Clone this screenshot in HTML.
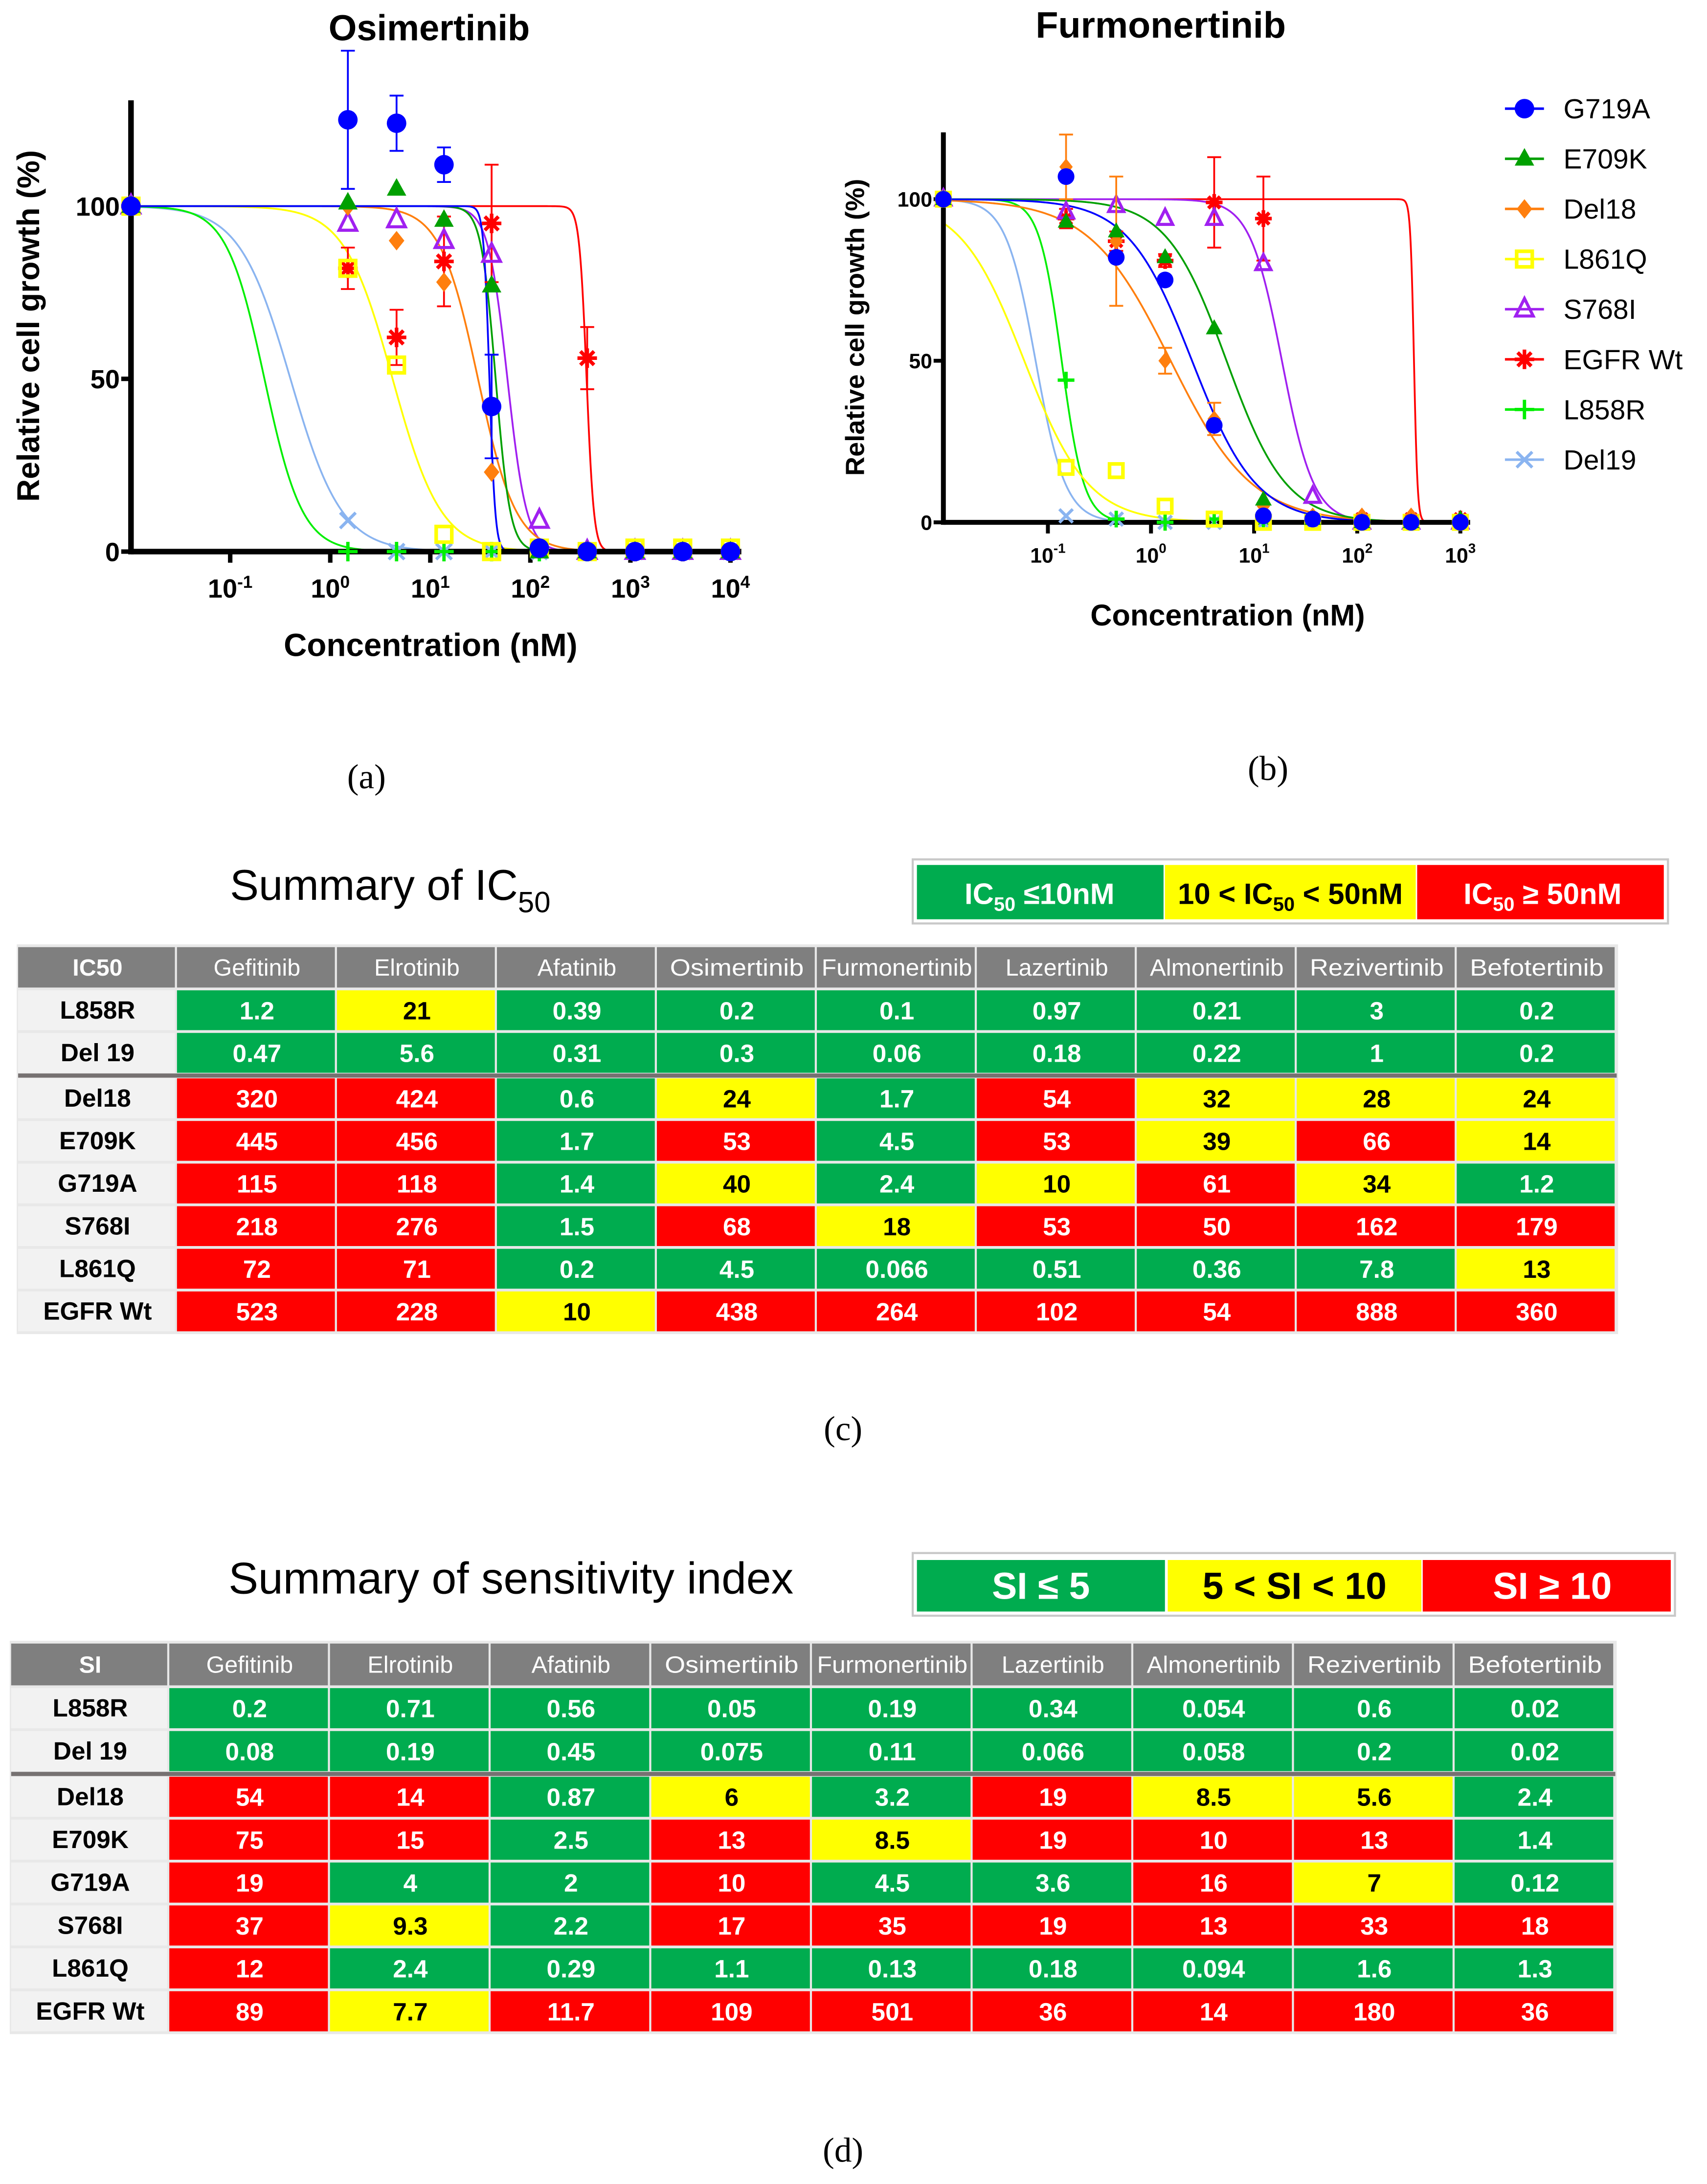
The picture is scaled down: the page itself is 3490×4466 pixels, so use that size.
<!DOCTYPE html>
<html><head><meta charset="utf-8"><style>
html,body{margin:0;padding:0;background:#fff;}
svg{display:block;}
text{font-family:"Liberation Sans",sans-serif;}
</style></head><body>
<svg id="fig" xmlns="http://www.w3.org/2000/svg" width="3490" height="4466" viewBox="0 0 1225 1568" preserveAspectRatio="none">
<rect x="0" y="0" width="1225" height="1568" fill="#fff"/>
<g id="chartA"></g>
<g id="chartB"></g>
<g id="legendB"></g>
<text x="263" y="566" font-size="25" text-anchor="middle" style="font-family:'Liberation Serif',serif">(a)</text>
<text x="910" y="560" font-size="25" text-anchor="middle" style="font-family:'Liberation Serif',serif">(b)</text>
<text x="605" y="1034" font-size="25" text-anchor="middle" style="font-family:'Liberation Serif',serif">(c)</text>
<text x="605" y="1552" font-size="25" text-anchor="middle" style="font-family:'Liberation Serif',serif">(d)</text>

<text x="165" y="646" font-size="31">Summary of IC<tspan font-size="21" dy="9">50</tspan></text>
<g>
<rect x="655" y="617" width="542" height="46" fill="#fff" stroke="#c8c8c8" stroke-width="1.5"/>
<rect x="658" y="621" width="177" height="39" fill="#00ac4f"/>
<rect x="836" y="621" width="180" height="39" fill="#ffff00"/>
<rect x="1017" y="621" width="177" height="39" fill="#ff0000"/>
<text x="746" y="649" font-size="21" font-weight="bold" fill="#fff" text-anchor="middle">IC<tspan font-size="14" dy="5">50</tspan><tspan dy="-5"> ≤10nM</tspan></text>
<text x="926" y="649" font-size="21" font-weight="bold" fill="#000" text-anchor="middle">10 &lt; IC<tspan font-size="14" dy="5">50</tspan><tspan dy="-5"> &lt; 50nM</tspan></text>
<text x="1107" y="649" font-size="21" font-weight="bold" fill="#fff" text-anchor="middle">IC<tspan font-size="14" dy="5">50</tspan><tspan dy="-5"> ≥ 50nM</tspan></text>
</g>
<g id="tableC"></g>

<text x="164" y="1144" font-size="32">Summary of sensitivity index</text>
<g>
<rect x="655" y="1115" width="547" height="45" fill="#fff" stroke="#c8c8c8" stroke-width="1.5"/>
<rect x="658" y="1120" width="178" height="37" fill="#00ac4f"/>
<rect x="838" y="1120" width="182" height="37" fill="#ffff00"/>
<rect x="1021" y="1120" width="178" height="37" fill="#ff0000"/>
<text x="747" y="1148" font-size="27" font-weight="bold" fill="#fff" text-anchor="middle">SI ≤ 5</text>
<text x="929" y="1148" font-size="27" font-weight="bold" fill="#000" text-anchor="middle">5 &lt; SI &lt; 10</text>
<text x="1114" y="1148" font-size="27" font-weight="bold" fill="#fff" text-anchor="middle">SI ≥ 10</text>
</g>
<g id="tableD"></g>
</svg>
<script>
// ---------- chart data ----------
const seriesNames = ["G719A","E709K","Del18","L861Q","S768I","EGFR Wt","L858R","Del19"];
const concA = [1.5, 4.6, 13.7, 41, 123, 370, 1111, 3333, 10000];
const g719aA = [125,124,112,42,1,0,0,0,0];
const e709kA = [101,105,96,77,0,0,0,0,0];
const del18A = [100,90,78,23,1,0,0,0,0];
const l861qA = [82,54,5,0,1,0,1,1,1];
const s768iA = [95,96,90,86,9,0,0,0,0];
const wtA = [82,62,84,95,null,56,0,0,0];
const l858rA = [0,0,0,0,0,0,0,0,0];
const del19A = [9,0,0,0,0,0,0,0,0];
const fitIc50A = [39,45,30,4.2,59,365,0.22,0.4];
const fitHillA = [15,6,2.3,1.8,4.5,12,2.3,1.7];
const errG719aA = [20,8,5,15,0,0,0,0,0];
const errWtA = [6,8,13,17,0,9,0,0,0];

const concB = [0.15, 0.46, 1.37, 4.1, 12.3, 37, 111, 333, 1000];
const g719aB = [107,82,75,30,2,1,0,0,0];
const e709kB = [93,90,82,60,7,1,0,0,1];
const del18B = [110,87,50,32,5,2,2,2,1];
const l861qB = [17,16,5,1,0,0,0,0,0];
const s768iB = [96,98,94,94,80,8,0,0,0];
const wtB = [94,87,81,99,94,1,1,1,1];
const l858rB = [44,1,0,1,0,0,0,0,0];
const del19B = [2,1,0,0,0,0,0,0,0];
const fitIc50B = [2.5,5.4,1.55,0.059,18.6,355,0.136,0.076];
const fitHillB = [1.4,1.5,1.1,1.4,2.8,25,4,3];
const errDel18B = [10,20,4,5,0,0,0,0,0];
const errWtB = [3,3,2,14,13,0,0,0,0];

const yTicks = [0,50,100];
const xTickExpA = [-1,0,1,2,3,4];
const xTickExpB = [-1,0,1,2,3];

// ---------- table data ----------
const drugs = ["Gefitinib","Elrotinib","Afatinib","Osimertinib","Furmonertinib","Lazertinib","Almonertinib","Rezivertinib","Befotertinib"];
const rowsC = ["L858R","Del 19","Del18","E709K","G719A","S768I","L861Q","EGFR Wt"];
const rowsD = ["L858R","Del 19","Del18","E709K","G719A","S768I","L861Q","EGFR Wt"];
const ic50L858R = [1.2,21,0.39,0.2,0.1,0.97,0.21,3,0.2];
const ic50Del19 = [0.47,5.6,0.31,0.3,0.06,0.18,0.22,1,0.2];
const ic50Del18 = [320,424,0.6,24,1.7,54,32,28,24];
const ic50E709K = [445,456,1.7,53,4.5,53,39,66,14];
const ic50G719A = [115,118,1.4,40,2.4,10,61,34,1.2];
const ic50S768I = [218,276,1.5,68,18,53,50,162,179];
const ic50L861Q = [72,71,0.2,4.5,0.066,0.51,0.36,7.8,13];
const ic50Wt = [523,228,10,438,264,102,54,888,360];
const siL858R = [0.2,0.71,0.56,0.05,0.19,0.34,0.054,0.6,0.02];
const siDel19 = [0.08,0.19,0.45,0.075,0.11,0.066,0.058,0.2,0.02];
const siDel18 = [54,14,0.87,6,3.2,19,8.5,5.6,2.4];
const siE709K = [75,15,2.5,13,8.5,19,10,13,1.4];
const siG719A = [19,4,2,10,4.5,3.6,16,7,0.12];
const siS768I = [37,9.3,2.2,17,35,19,13,33,18];
const siL861Q = [12,2.4,0.29,1.1,0.13,0.18,0.094,1.6,1.3];
const siWt = [89,7.7,11.7,109,501,36,14,180,36];

const NS = "http://www.w3.org/2000/svg";
function mk(tag, attrs, parent){
  const e = document.createElementNS(NS, tag);
  for (const k in attrs) e.setAttribute(k, attrs[k]);
  if (parent) parent.appendChild(e);
  return e;
}
const colors = ["#0000ff","#00a000","#ff7f0e","#ffff00","#a020f0","#ff0000","#00ee00","#8ab4f0"];
const shapes = ["circle","tri","diamond","square","otri","star","plus","x"];

function marker(g, shape, x, y, c, s){
  let el;
  if (shape==="circle") el = mk("circle",{cx:x,cy:y,r:s,fill:c},g);
  else if (shape==="tri") el = mk("polygon",{points:`${x},${y-s*1.1} ${x-s},${y+s*0.7} ${x+s},${y+s*0.7}`,fill:c},g);
  else if (shape==="otri") el = mk("polygon",{points:`${x},${y-s*1.1} ${x-s*0.9},${y+s*0.7} ${x+s*0.9},${y+s*0.7}`,fill:"none",stroke:c,"stroke-width":2.2},g);
  else if (shape==="diamond") el = mk("polygon",{points:`${x},${y-s} ${x+s*0.8},${y} ${x},${y+s} ${x-s*0.8},${y}`,fill:c},g);
  else if (shape==="square") el = mk("rect",{x:x-s*0.8,y:y-s*0.8,width:s*1.6,height:s*1.6,fill:"none",stroke:c,"stroke-width":2.6},g);
  else if (shape==="star") { el = mk("path",{d:`M${x-s},${y}H${x+s}M${x},${y-s}V${y+s}M${x-s*0.7},${y-s*0.7}L${x+s*0.7},${y+s*0.7}M${x-s*0.7},${y+s*0.7}L${x+s*0.7},${y-s*0.7}`,stroke:c,"stroke-width":2.6,fill:"none"},g); }
  else if (shape==="plus") el = mk("path",{d:`M${x-s},${y}H${x+s}M${x},${y-s}V${y+s}`,stroke:c,"stroke-width":2.4,fill:"none"},g);
  else el = mk("path",{d:`M${x-s*0.8},${y-s*0.8}L${x+s*0.8},${y+s*0.8}M${x-s*0.8},${y+s*0.8}L${x+s*0.8},${y-s*0.8}`,stroke:c,"stroke-width":2.2,fill:"none"},g);
  return el;
}

function drawChart(gid, P, conc, series, ic50s, hills, errs){
  const g = document.getElementById(gid);
  const xs = c => P.x0 + P.dec*Math.log10(c);
  const ys = v => P.yb - P.yk*v;
  const t = mk("text",{x:P.titleX,y:P.titleY,"font-size":P.titleSize,"font-weight":"bold","text-anchor":"middle"},g);
  t.textContent = P.title;
  
  
  for (let s = series.length-1; s >= 0; s--){
    let d = "";
    for (let L = P.lo; L <= P.hi+0.001; L += 0.005){
      const c = Math.pow(10, L);
      const v = 100/(1+Math.pow(c/ic50s[s], hills[s]));
      d += (d ? "L" : "M") + xs(c).toFixed(2) + "," + ys(v).toFixed(2);
    }
    const p = mk("path",{d:d,fill:"none",stroke:colors[s],"stroke-width":1.3},g);
    
    
  }
  const ya = mk("line",{x1:P.ax,y1:P.ytop,x2:P.ax,y2:P.yb+P.aw/2,stroke:"#000","stroke-width":P.aw},g);
  
  
  const xa = mk("line",{x1:P.ax,y1:P.yb,x2:P.xend,y2:P.yb,stroke:"#000","stroke-width":P.aw},g);
  
  
  yTicks.forEach(v=>{
    mk("line",{x1:P.ax-7,y1:ys(v),x2:P.ax,y2:ys(v),stroke:"#000","stroke-width":P.aw*0.8},g);
    const tl = mk("text",{x:P.ax-8,y:ys(v)+P.tick*0.36,"font-size":P.tick,"font-weight":"bold","text-anchor":"end"},g);
    tl.textContent = v;
    
    
  });
  P.xexp.forEach(e=>{
    const x = xs(Math.pow(10,e));
    mk("line",{x1:x,y1:P.yb,x2:x,y2:P.yb+8,stroke:"#000","stroke-width":P.aw*0.8},g);
    const tl = mk("text",{x:x,y:P.yb+P.tick+14,"font-size":P.tick,"font-weight":"bold","text-anchor":"middle"},g);
    tl.innerHTML = "10<tspan font-size='" + (P.tick*0.65) + "' dy='-7'>" + e + "</tspan>";
    
    
  });
  const yt = mk("text",{x:0,y:0,"font-size":P.ylabSize,"font-weight":"bold","text-anchor":"middle",transform:`translate(${P.ylabX},${P.ylabY}) rotate(-90)`},g);
  yt.textContent = "Relative cell growth (%)";
  
  
  const xt = mk("text",{x:P.xlabX,y:P.xlabY,"font-size":P.xlabSize,"font-weight":"bold","text-anchor":"middle"},g);
  xt.textContent = "Concentration (nM)";
  
  
  for (let s = series.length-1; s >= 0; s--){
    const sg = mk("g",{},g);
    
    
    const ctl = marker(sg, shapes[s], P.ax, ys(100), colors[s], P.ms);
    
    
    series[s].forEach((v,i)=>{
      if (v === null) return;
      const x = xs(conc[i]), y = ys(v);
      const er = errs[s] ? errs[s][i] : 0;
      if (er > 0){
        mk("path",{d:`M${x},${ys(v-er)}V${ys(v+er)}M${x-5},${ys(v-er)}H${x+5}M${x-5},${ys(v+er)}H${x+5}`,stroke:colors[s],"stroke-width":1.3,fill:"none"},sg);
      }
      const m = marker(sg, shapes[s], x, y, colors[s], P.ms);
      
      
    });
  }
}

drawChart("chartA",{x0:237,dec:71.8,yb:396,yk:2.48,ax:94,ytop:72,xend:532,aw:4,lo:-1.99,hi:4.02,
  title:"Osimertinib",titleX:308,titleY:29,titleSize:26,tick:19,xexp:xTickExpA,ms:7,
  ylabSize:22.5,xlabSize:23,ylabX:28,ylabY:234,xlabX:309,xlabY:471},
  concA,[g719aA,e709kA,del18A,l861qA,s768iA,wtA,l858rA,del19A],fitIc50A,fitHillA,
  [errG719aA,null,null,null,null,errWtA,null,null]);

drawChart("chartB",{x0:826,dec:74,yb:375,yk:2.32,ax:677,ytop:95,xend:1055,aw:3.5,lo:-2.01,hi:3.0,
  title:"Furmonertinib",titleX:833,titleY:27,titleSize:26.5,tick:15,xexp:xTickExpB,ms:6,
  ylabSize:19,xlabSize:21.5,ylabX:620,ylabY:235,xlabX:881,xlabY:449},
  concB,[g719aB,e709kB,del18B,l861qB,s768iB,wtB,l858rB,del19B],fitIc50B,fitHillB,
  [null,null,errDel18B,null,null,errWtB,null,null]);

const lg = document.getElementById("legendB");
seriesNames.forEach((n,i)=>{
  const y = 78 + 36*i;
  const eg = mk("g",{},lg);
  
  
  mk("line",{x1:1080,y1:y,x2:1108,y2:y,stroke:colors[i],"stroke-width":1.8},eg);
  marker(eg, shapes[i], 1094, y, colors[i], 7);
  const t = mk("text",{x:1122,y:y+7,"font-size":20},eg);
  t.textContent = n;
});

function fmt(v){ return String(v); }
function drawTable(gid, T, corner, rows, data, lo, hi){
  const g = document.getElementById(gid);
  const colX = i => T.c0 + T.w0 + i*T.cw;
  const rowY = r => T.r0 + r*T.rh + (r >= 2 ? 2 : 0);
  mk("rect",{x:T.x0-1,y:T.hy-2,width:T.c0+T.w0+9*T.cw-T.x0+2,height:rowY(8)-T.hy+2,fill:"#e8e8e8"},g);
  const hc = mk("rect",{x:T.x0,y:T.hy,width:T.w0-1.5,height:T.hh,fill:"#7f7f7f"},g);
  
  
  const ht = mk("text",{x:T.x0+T.w0/2,y:T.hy+T.hh/2+6,"font-size":17,"font-weight":"bold",fill:"#fff","text-anchor":"middle"},g);
  ht.textContent = corner;
  drugs.forEach((d,i)=>{
    const r = mk("rect",{x:colX(i),y:T.hy,width:T.cw-1.5,height:T.hh,fill:"#7f7f7f"},g);
    
    
    const t = mk("text",{x:colX(i)+T.cw/2,y:T.hy+T.hh/2+6,"font-size":17,fill:"#fff","text-anchor":"middle"},g);
    t.textContent = d;
    if (d.length > 10) { t.setAttribute("textLength", d.length > 12 ? 108 : 96); t.setAttribute("lengthAdjust","spacingAndGlyphs"); }
  });
  rows.forEach((rn,r)=>{
    const y = rowY(r);
    const rc = mk("rect",{x:T.x0,y:y,width:T.w0-1.5,height:T.rh-2,fill:"#f2f2f2"},g);
    
    
    const rt = mk("text",{x:T.x0+T.w0/2,y:y+T.rh/2+5,"font-size":18,"font-weight":"bold","text-anchor":"middle"},g);
    rt.textContent = rn;
    data[r].forEach((v,i)=>{
      const col = v < lo ? "#00ac4f" : (v < hi ? "#ffff00" : "#ff0000");
      const c = mk("rect",{x:colX(i),y:y,width:T.cw-1.5,height:T.rh-2,fill:col},g);
      
      
      const t = mk("text",{x:colX(i)+T.cw/2,y:y+T.rh/2+5.5,"font-size":18,"font-weight":"bold",fill: col==="#ffff00" ? "#000" : "#fff","text-anchor":"middle"},g);
      t.textContent = fmt(v);
    });
  });
  const sep = mk("rect",{x:T.x0,y:rowY(2)-3.5,width:T.c0+T.w0+9*T.cw-T.x0,height:3,fill:"#767171"},g);
  
  
}
drawTable("tableC",{x0:13,c0:13,w0:114,cw:114.8,hy:680,hh:29,r0:711,rh:30.6},"IC50",rowsC,
  [ic50L858R,ic50Del19,ic50Del18,ic50E709K,ic50G719A,ic50S768I,ic50L861Q,ic50Wt],10,50);
drawTable("tableD",{x0:8,c0:8,w0:113.5,cw:115.3,hy:1180,hh:30,r0:1212,rh:30.8},"SI",rowsD,
  [siL858R,siDel19,siDel18,siE709K,siG719A,siS768I,siL861Q,siWt],5.0001,10);
</script>
</body></html>
